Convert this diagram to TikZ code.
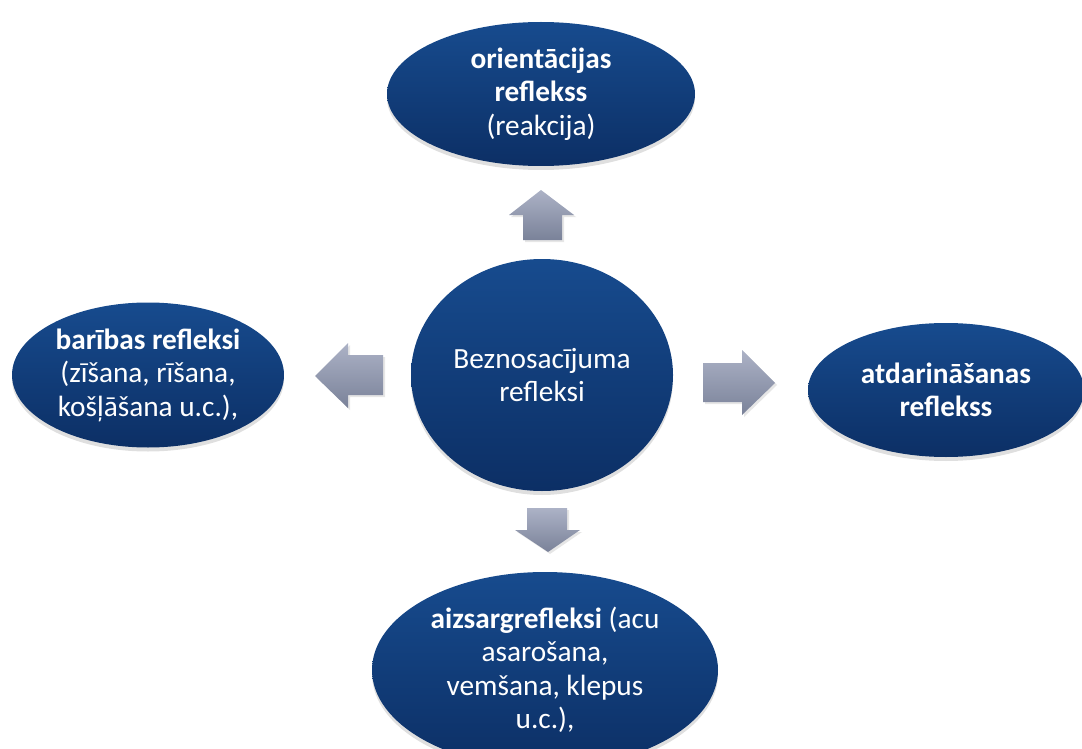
\documentclass[tikz,border=0pt]{standalone}
\usepackage{fontspec}
\setmainfont{Carlito}
\usetikzlibrary{shapes.geometric,shadows}
\definecolor{ovaltop}{RGB}{23,75,142}
\definecolor{ovalbot}{RGB}{12,47,101}
\definecolor{arrtop}{RGB}{172,178,198}
\definecolor{arrbot}{RGB}{122,130,153}
\newcommand{\ovalfont}{\fontsize{29.3}{33.5}\selectfont}

\begin{document}
\begin{tikzpicture}[
      x=1pt, y=-1pt,
      oval/.style={ellipse, inner sep=0pt, top color=ovaltop, bottom color=ovalbot,
        text=white, align=center, font=\ovalfont,
        drop shadow={opacity=0.25, shadow xshift=0pt, shadow yshift=-4pt}},
      blockarrow/.style={top color=arrtop, bottom color=arrbot,
        drop shadow={opacity=0.2, shadow xshift=2pt, shadow yshift=-2pt}}
    ]
    \useasboundingbox (0,0) rectangle (1082,749);
    % Draw the centre and the four reflexes.
    \node[oval, minimum width=262pt, minimum height=232pt] (core) at (542,375)
      {Beznosacījuma\\refleksi};
    \node[oval, minimum width=308pt, minimum height=144pt] (orient) at (541,94)
      {\textbf{orientācijas}\\\textbf{reflekss}\\(reakcija)};
    \node[oval, minimum width=272pt, minimum height=145pt] (food) at (148,375)
      {\textbf{barības refleksi}\\(zīšana, rīšana,\\košļāšana u.c.),};
    \node[oval, minimum width=276pt, minimum height=134pt] (imit) at (946,390)
      {\textbf{atdarināšanas}\\\textbf{reflekss}};
    \node[oval, minimum width=346pt, minimum height=196pt] (guard) at (545,670)
      {\textbf{aizsargrefleksi} (acu\\asarošana,\\vemšana, klepus\\u.c.),};
    % Draw the block arrows.
    \shade[blockarrow] (509,215) -- (541,190) -- (574,215) -- (562,215)
      -- (562,240) -- (523,240) -- (523,215) -- cycle;
    \shade[blockarrow] (348,343) -- (315,376) -- (348,408) -- (348,395)
      -- (383,395) -- (383,355) -- (348,355) -- cycle;
    \shade[blockarrow] (742,350) -- (775,383) -- (742,415) -- (742,402)
      -- (703,402) -- (703,363) -- (742,363) -- cycle;
    \shade[blockarrow] (515,530) -- (548,552) -- (580,530) -- (567,530)
      -- (567,508) -- (527,508) -- (527,530) -- cycle;
\end{tikzpicture}
\end{document}
